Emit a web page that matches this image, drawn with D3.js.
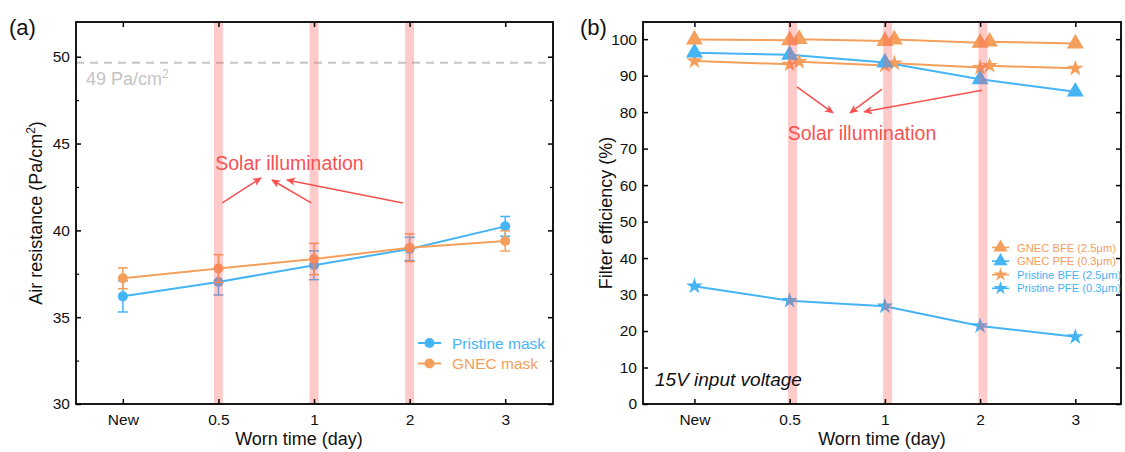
<!DOCTYPE html>
<html>
<head>
<meta charset="utf-8">
<script src="https://cdn.jsdelivr.net/npm/d3@7"></script>
<style>
  html, body { margin: 0; padding: 0; background: #fff; }
  svg { display: block; font-family: "Liberation Sans", Arial, sans-serif; }
</style>
</head>
<body>
<svg id="chart" width="1125" height="452"></svg>
<script>
// ---------------- DATA ----------------
const categories = ["New", "0.5", "1", "2", "3"];
const categoryIndex = [0, 1, 2, 3, 4];
const illuminatedIndex = [1, 2, 3];

// Panel (a): air resistance (Pa/cm2)
const pristineMask    = [36.2, 37.03, 37.99, 38.93, 40.23];
const pristineMaskErr = [0.9, 0.75, 0.83, 0.67, 0.57];
const gnecMask        = [37.24, 37.8, 38.35, 39.0, 39.39];
const gnecMaskErr     = [0.6, 0.8, 0.9, 0.8, 0.58];
const limitValue = 49.65;
const limitLabel = "49 Pa/cm";

// Panel (b): filter efficiency (%)
// GNEC BFE & Pristine BFE have before/after points around each illumination
const bfeIndex        = [0, 1, 1.1, 2, 2.1, 3, 3.1, 4];
const gnecBFE         = [99.9, 99.7, 100.0, 99.5, 99.9, 99.0, 99.3, 98.8];
const pristineBFE     = [94.0, 93.1, 93.8, 92.8, 93.4, 92.2, 92.7, 92.0];
const gnecPFE         = [96.3, 95.7, 93.6, 89.0, 85.6];
const pristinePFE     = [32.3, 28.3, 26.8, 21.4, 18.4];

const yTicksA = [30, 35, 40, 45, 50];
const yMinorA = [32.5, 37.5, 42.5, 47.5];
const yTicksB = [0, 10, 20, 30, 40, 50, 60, 70, 80, 90, 100];

// ---------------- STYLE ----------------
const BLUE = "#45b4f5";
const ORANGE = "#f4a05c";
const RED = "#f75252";
const BAR = "rgba(255,90,90,0.32)";
const TXT = "#111";

const svg = d3.select("#chart");

// arrow marker
svg.append("defs").append("marker")
  .attr("id", "arrow").attr("viewBox", "0 0 10 10")
  .attr("refX", 9).attr("refY", 5)
  .attr("markerWidth", 9).attr("markerHeight", 9)
  .attr("markerUnits", "userSpaceOnUse")
  .attr("orient", "auto")
  .append("path").attr("d", "M0,0.5 L10,5 L0,9.5 L2.5,5 Z").attr("fill", RED);

function frameAndAxes(g, x, y, box, yTicks, yMinor, fmt) {
  const {l, r, t, b} = box;
  g.append("g").attr("transform", `translate(0,${b})`)
    .call(d3.axisBottom(x).tickValues(categoryIndex).tickFormat(i => categories[i]).tickSize(-5).tickPadding(10))
    .call(s => { s.select(".domain").remove(); s.selectAll("text").attr("font-size", 15.5).attr("fill", TXT).attr("font-family", null); s.selectAll("line").attr("stroke", "#000").attr("stroke-width", 1.5); });
  g.append("g").attr("transform", `translate(0,${t})`)
    .call(d3.axisTop(x).tickValues(categoryIndex).tickFormat("").tickSize(-5))
    .call(s => { s.select(".domain").remove(); s.selectAll("line").attr("stroke", "#000").attr("stroke-width", 1.5); });
  g.append("g").attr("transform", `translate(${l},0)`)
    .call(d3.axisLeft(y).tickValues(yTicks).tickFormat(fmt).tickSize(-5).tickPadding(6))
    .call(s => { s.select(".domain").remove(); s.selectAll("text").attr("font-size", 15.5).attr("fill", TXT).attr("font-family", null); s.selectAll("line").attr("stroke", "#000").attr("stroke-width", 1.5); });
  g.append("g").attr("transform", `translate(${r},0)`)
    .call(d3.axisRight(y).tickValues(yTicks).tickFormat("").tickSize(-5))
    .call(s => { s.select(".domain").remove(); s.selectAll("line").attr("stroke", "#000").attr("stroke-width", 1.5); });
  if (yMinor) {
    g.append("g").attr("transform", `translate(${l},0)`)
      .call(d3.axisLeft(y).tickValues(yMinor).tickFormat("").tickSize(-3))
      .call(s => { s.select(".domain").remove(); s.selectAll("line").attr("stroke", "#000").attr("stroke-width", 1.2); });
    g.append("g").attr("transform", `translate(${r},0)`)
      .call(d3.axisRight(y).tickValues(yMinor).tickFormat("").tickSize(-3))
      .call(s => { s.select(".domain").remove(); s.selectAll("line").attr("stroke", "#000").attr("stroke-width", 1.2); });
  }
  g.append("rect").attr("x", l).attr("y", t).attr("width", r - l).attr("height", b - t)
    .attr("fill", "none").attr("stroke", "#000").attr("stroke-width", 1.8);
}

// ================= PANEL A =================
{
  const box = {l: 76, r: 553, t: 22, b: 404};
  const x = d3.scaleLinear().domain([-0.49, 4.5]).range([box.l, box.r]);
  const y = d3.scaleLinear().domain([30, 52]).range([box.b, box.t]);
  const g = svg.append("g");

  g.append("line").attr("x1", box.l).attr("x2", box.r)
    .attr("y1", y(limitValue)).attr("y2", y(limitValue))
    .attr("stroke", "#c6c6c6").attr("stroke-width", 2).attr("stroke-dasharray", "8,6");
  const lt = g.append("text").attr("x", x(-0.385)).attr("y", y(48.38))
    .attr("font-size", 18).attr("fill", "#c4c4c4").text(limitLabel);
  lt.append("tspan").attr("dy", -7).attr("font-size", 12).text("2");

  const series = [
    {vals: pristineMask, err: pristineMaskErr, color: BLUE},
    {vals: gnecMask, err: gnecMaskErr, color: ORANGE}
  ];
  const line = d3.line().x((d, i) => x(categoryIndex[i])).y(d => y(d));
  series.forEach(s => {
    g.append("path").datum(s.vals).attr("d", line).attr("fill", "none")
      .attr("stroke", s.color).attr("stroke-width", 2);
    const eb = g.append("g").attr("stroke", s.color).attr("stroke-width", 1.5);
    s.vals.forEach((v, i) => {
      const cx = x(categoryIndex[i]);
      const y1 = y(v + s.err[i]), y2 = y(v - s.err[i]);
      eb.append("line").attr("x1", cx).attr("x2", cx).attr("y1", y1).attr("y2", y2);
      eb.append("line").attr("x1", cx - 5).attr("x2", cx + 5).attr("y1", y1).attr("y2", y1);
      eb.append("line").attr("x1", cx - 5).attr("x2", cx + 5).attr("y1", y2).attr("y2", y2);
    });
    g.selectAll(null).data(s.vals).enter().append("circle")
      .attr("cx", (d, i) => x(categoryIndex[i])).attr("cy", d => y(d)).attr("r", 5)
      .attr("fill", s.color);
  });

  g.selectAll(null).data(illuminatedIndex).enter().append("rect")
    .attr("x", d => x(d) - 4.5).attr("width", 9).attr("y", box.t).attr("height", box.b - box.t)
    .attr("fill", BAR);

  g.append("text").attr("x", x(1.743)).attr("y", y(43.48)).attr("text-anchor", "middle")
    .attr("font-size", 19.5).attr("fill", RED).text("Solar illumination");
  const arrowsA = [[1.04, 41.58, 1.445, 43.02], [1.97, 41.58, 1.56, 42.9], [2.93, 41.58, 1.717, 42.9]];
  arrowsA.forEach(a => g.append("line").attr("x1", x(a[0])).attr("y1", y(a[1]))
    .attr("x2", x(a[2])).attr("y2", y(a[3])).attr("stroke", RED).attr("stroke-width", 1.6)
    .attr("marker-end", "url(#arrow)"));

  frameAndAxes(g, x, y, box, yTicksA, yMinorA, d3.format("d"));

  const leg = [{t: "Pristine mask", c: BLUE}, {t: "GNEC mask", c: ORANGE}];
  leg.forEach((d, i) => {
    const ly = 343 + i * 20.5;
    g.append("line").attr("x1", 418).attr("x2", 441).attr("y1", ly).attr("y2", ly).attr("stroke", d.c).attr("stroke-width", 2);
    g.append("circle").attr("cx", 429.5).attr("cy", ly).attr("r", 5).attr("fill", d.c);
    g.append("text").attr("x", 452).attr("y", ly + 5.5).attr("font-size", 15.5).attr("fill", d.c).text(d.t);
  });

  g.append("text").attr("x", 299).attr("y", 445).attr("text-anchor", "middle")
    .attr("font-size", 18).attr("fill", TXT).text("Worn time (day)");
  const yt = g.append("text").attr("transform", "translate(42,213) rotate(-90)")
    .attr("text-anchor", "middle").attr("font-size", 18).attr("fill", TXT);
  yt.append("tspan").text("Air resistance (Pa/cm");
  yt.append("tspan").attr("dy", -7).attr("font-size", 12).text("2");
  yt.append("tspan").attr("dy", 7).text(")");
  g.append("text").attr("x", 9).attr("y", 35).attr("font-size", 22).attr("fill", TXT).text("(a)");
}

// ================= PANEL B =================
{
  const box = {l: 643, r: 1121, t: 22, b: 404};
  const x = d3.scaleLinear().domain([-0.54, 4.48]).range([box.l, box.r]);
  const y = d3.scaleLinear().domain([0, 104.7]).range([box.b, box.t]);
  const g = svg.append("g");

  const tri = d3.symbol().type(d3.symbolTriangle).size(125);
  const star = d3.symbol().type(d3.symbolStar).size(85);
  const series = [
    {xs: bfeIndex, vals: pristineBFE, color: ORANGE, sym: star},
    {xs: categoryIndex, vals: pristinePFE, color: BLUE, sym: star},
    {xs: categoryIndex, vals: gnecPFE, color: BLUE, sym: tri},
    {xs: bfeIndex, vals: gnecBFE, color: ORANGE, sym: tri}
  ];
  series.forEach(s => {
    const line = d3.line().x((d, i) => x(s.xs[i])).y(d => y(d));
    g.append("path").datum(s.vals).attr("d", line).attr("fill", "none")
      .attr("stroke", s.color).attr("stroke-width", 2);
  });
  series.forEach(s => {
    g.selectAll(null).data(s.vals).enter().append("path")
      .attr("d", s.sym)
      .attr("transform", (d, i) => `translate(${x(s.xs[i])},${y(d)})`)
      .attr("fill", s.color);
  });

  g.selectAll(null).data(illuminatedIndex).enter().append("rect")
    .attr("x", d => x(d + 0.03) - 4.5).attr("width", 9).attr("y", box.t).attr("height", box.b - box.t)
    .attr("fill", BAR);

  g.append("text").attr("x", x(1.76)).attr("y", y(72.4)).attr("text-anchor", "middle")
    .attr("font-size", 19.5).attr("fill", RED).text("Solar illumination");
  const arrowsB = [[1.077, 86.9, 1.455, 79.8], [1.97, 86.3, 1.634, 79.8], [3.02, 86.0, 1.781, 80.1]];
  arrowsB.forEach(a => g.append("line").attr("x1", x(a[0])).attr("y1", y(a[1]))
    .attr("x2", x(a[2])).attr("y2", y(a[3])).attr("stroke", RED).attr("stroke-width", 1.6)
    .attr("marker-end", "url(#arrow)"));

  g.append("text").attr("x", 655).attr("y", 386).attr("font-size", 19).attr("font-style", "italic")
    .attr("fill", TXT).text("15V input voltage");

  frameAndAxes(g, x, y, box, yTicksB, null, d3.format("d"));

  const ltri = d3.symbol().type(d3.symbolTriangle).size(85);
  const lstar = d3.symbol().type(d3.symbolStar).size(60);
  const leg = [
    {t: "GNEC BFE (2.5\u03bcm)", c: ORANGE, tc: ORANGE, s: ltri},
    {t: "GNEC PFE (0.3\u03bcm)", c: BLUE, tc: ORANGE, s: ltri},
    {t: "Pristine BFE (2.5\u03bcm)", c: ORANGE, tc: BLUE, s: lstar},
    {t: "Pristine PFE (0.3\u03bcm)", c: BLUE, tc: BLUE, s: lstar}
  ];
  leg.forEach((d, i) => {
    const ly = 247.5 + i * 13.6;
    g.append("line").attr("x1", 992).attr("x2", 1009).attr("y1", ly).attr("y2", ly).attr("stroke", d.c).attr("stroke-width", 1.6);
    g.append("path").attr("d", d.s).attr("transform", `translate(1000.5,${ly})`).attr("fill", d.c);
    g.append("text").attr("x", 1017).attr("y", ly + 4).attr("font-size", 11.2).attr("fill", d.tc).text(d.t);
  });

  g.append("text").attr("x", 882).attr("y", 445).attr("text-anchor", "middle")
    .attr("font-size", 18).attr("fill", TXT).text("Worn time (day)");
  g.append("text").attr("transform", "translate(612,213) rotate(-90)")
    .attr("text-anchor", "middle").attr("font-size", 18).attr("fill", TXT).text("Filter efficiency (%)");
  g.append("text").attr("x", 580).attr("y", 35).attr("font-size", 22).attr("fill", TXT).text("(b)");
}
</script>
</body>
</html>
